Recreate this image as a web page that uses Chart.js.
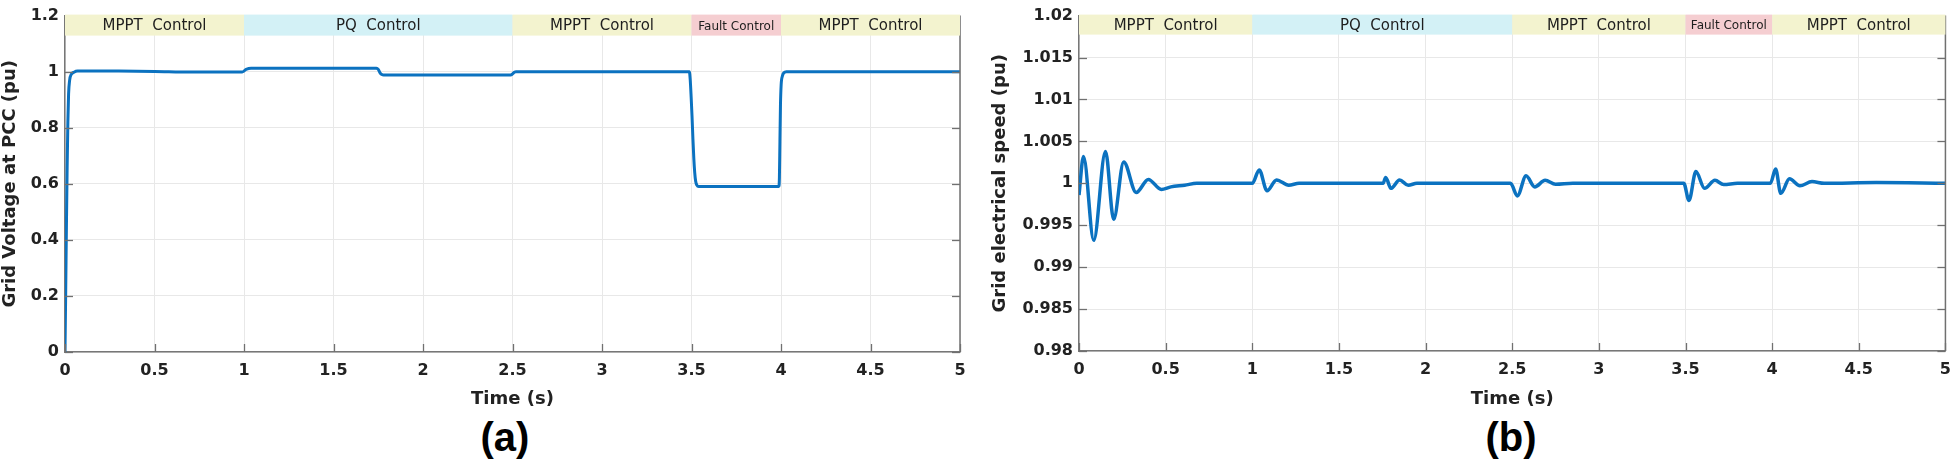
<!DOCTYPE html>
<html><head><meta charset="utf-8">
<script src="https://cdn.jsdelivr.net/npm/chart.js@4.4.1/dist/chart.umd.min.js"></script>
<style>
html,body{margin:0;padding:0;background:#fff;width:1960px;height:460px;overflow:hidden;}
.box{position:absolute;top:0;}
#wa{left:0;} #wb{left:990px;}
.cap{position:absolute;top:415px;font:bold 40px "Liberation Sans",Arial,sans-serif;color:#000;line-height:44px;width:200px;text-align:center;}
</style></head><body>
<div class="box" id="wa"><canvas id="ca" width="980" height="410"></canvas></div>
<div class="box" id="wb"><canvas id="cb" width="970" height="410"></canvas></div>
<div class="cap" style="left:405px">(a)</div>
<div class="cap" style="left:1411px">(b)</div>
<script>
// ---------- data ----------
const bandStart = [0, 1, 2.5, 3.5, 4];
const bandEnd   = [1, 2.5, 3.5, 4, 5];
const bandLabel = ['MPPT  Control', 'PQ  Control', 'MPPT  Control', 'Fault Control', 'MPPT  Control'];

// (a) Grid voltage at PCC (pu)
const timeA = [0, 0.004, 0.008, 0.012, 0.016, 0.02, 0.026, 0.035, 0.05, 0.07, 0.3, 0.5, 0.7, 0.99,
  1.0, 1.01, 1.025, 1.04, 1.3, 1.74, 1.75, 1.76, 1.77, 1.78, 1.8, 2.2, 2.49, 2.5, 2.51, 2.52, 2.54,
  3.0, 3.488, 3.493, 3.498, 3.503, 3.508, 3.513, 3.518, 3.523, 3.53, 3.54, 3.8, 3.98, 3.988, 3.991,
  3.994, 3.997, 4.001, 4.008, 4.016, 4.03, 4.05, 4.5, 5];
const voltA = [0, 0.22, 0.45, 0.66, 0.82, 0.92, 0.97, 0.99, 0.998, 1.002, 1.002, 1.001, 0.999, 0.999,
  1.002, 1.008, 1.011, 1.012, 1.012, 1.012, 1.008, 0.996, 0.99, 0.988, 0.988, 0.988, 0.988, 0.992, 0.998, 1.0, 1.0,
  1.0, 1.0, 0.97, 0.91, 0.84, 0.76, 0.69, 0.64, 0.61, 0.595, 0.59, 0.59, 0.59, 0.59, 0.62,
  0.75, 0.88, 0.955, 0.985, 0.996, 1.0, 1.0, 1.0, 1.0];

// (b) Grid electrical speed (pu)
const timeB = [0, 0.026, 0.085, 0.153, 0.2, 0.258, 0.33, 0.4, 0.475, 0.53, 0.61, 0.68, 0.8, 0.99,
  1.0, 1.04, 1.085, 1.14, 1.21, 1.27, 1.5, 1.755, 1.77, 1.8, 1.85, 1.9, 1.95, 2.2, 2.49, 2.53, 2.58,
  2.63, 2.69, 2.75, 2.85, 3.2, 3.49, 3.52, 3.56, 3.61, 3.67, 3.72, 3.8, 3.99, 4.02, 4.05, 4.1, 4.16,
  4.23, 4.3, 4.6, 5];
const speedB = [0.9986, 1.0032, 0.9932, 1.0038, 0.9957, 1.00255, 0.9989, 1.00046, 0.99927, 0.99957, 0.99977, 1.0, 1.0, 1.0,
  1.0, 1.0016, 0.9991, 1.0004, 0.99977, 1.0, 1.0, 1.0, 1.0007, 0.9994, 1.0004, 0.99977, 1.0, 1.0, 1.0, 0.9985, 1.0009,
  0.99957, 1.00035, 0.99988, 1.0, 1.0, 1.0, 0.99795, 1.0014, 0.9994, 1.00035, 0.99985, 1.0, 1.0, 1.0017, 0.9988, 1.00054, 0.9997,
  1.0002, 1.0, 1.0001, 1.0];

const xTitle = 'Time (s)';
const yTitleA = 'Grid Voltage at PCC (pu)';
const yTitleB = 'Grid electrical speed (pu)';

// ---------- styles ----------
const BAND_COLORS = {'MPPT  Control': '#f3f3cf', 'PQ  Control': '#d3f1f6', 'Fault Control': '#f5ced1'};
const LINE_COLOR = '#0b72c0';
Chart.defaults.font.family = '"DejaVu Sans", Verdana, sans-serif';
Chart.defaults.color = '#222';

const decor = {
  id: 'decor',
  afterDraw(chart, args, o) {
    const {ctx, chartArea: a, scales: {x, y}} = chart;
    const line = (x0, y0, x1, y1) => { ctx.beginPath(); ctx.moveTo(x0, y0); ctx.lineTo(x1, y1); ctx.stroke(); };
    ctx.save();
    ctx.strokeStyle = '#707070'; ctx.lineWidth = 1.3;
    x.ticks.forEach(t => { const px = Math.round(x.getPixelForValue(t.value)) + 0.5; line(px, a.bottom, px, a.bottom - 8); });
    y.ticks.forEach(t => { const py = Math.round(y.getPixelForValue(t.value)) + 0.5; line(a.left, py, a.left + 8, py); line(a.right, py, a.right - 8, py); });
    ctx.lineWidth = 1.5;
    line(a.right, a.top, a.right, a.bottom);
    const bh = o.bandHeight;
    bandStart.forEach((s, i) => {
      const x0 = x.getPixelForValue(s), x1 = x.getPixelForValue(bandEnd[i]);
      const lab = bandLabel[i];
      ctx.fillStyle = BAND_COLORS[lab];
      ctx.fillRect(x0, a.top - 1, x1 - x0, bh + 1);
      ctx.fillStyle = '#1e1e1e';
      ctx.font = (lab.startsWith('Fault') ? '12px' : '15px') + ' "DejaVu Sans", sans-serif';
      ctx.textAlign = 'center'; ctx.textBaseline = 'middle';
      ctx.fillText(lab, (x0 + x1) / 2, a.top + bh / 2 + 1);
    });
    ctx.restore();
  }
};

function makeChart(id, xs, ys, opt) {
  const pts = xs.map((t, i) => ({x: t, y: ys[i]}));
  return new Chart(document.getElementById(id), {
    type: 'line',
    data: {datasets: [{data: pts, borderColor: LINE_COLOR, borderWidth: opt.lw, pointRadius: 0,
      cubicInterpolationMode: 'monotone', fill: false}]},
    options: {
      responsive: false, animation: false, devicePixelRatio: 1,
      layout: {padding: {left: opt.padL, right: opt.padR, top: 0, bottom: 0}},
      plugins: {legend: {display: false}, tooltip: {enabled: false}, decor: {bandHeight: opt.bh}},
      scales: {
        x: {type: 'linear', min: 0, max: 5,
          ticks: {stepSize: 0.5, padding: 9, font: {size: 16, weight: 'bold'}, color: '#222',
            callback: v => String(+v.toFixed(1))},
          grid: {color: '#e8e8e8', drawTicks: false},
          border: {display: true, color: '#777', width: 1.5},
          title: {display: true, text: xTitle, font: {size: 18, weight: 'bold'}, color: '#222', padding: 0},
          afterFit: s => { s.height = opt.xh; }
        },
        y: {type: 'linear', min: opt.ymin, max: opt.ymax,
          ticks: {stepSize: opt.ystep, padding: 6, font: {size: 16, weight: 'bold'}, color: '#222',
            callback: v => String(+v.toFixed(3))},
          grid: {color: '#e8e8e8', drawTicks: false},
          border: {display: true, color: '#777', width: 1.5},
          title: {display: true, text: opt.ytitle, font: {size: 18, weight: 'bold'}, color: '#222', padding: 0},
          afterFit: s => { s.width = opt.yw; }
        }
      }
    },
    plugins: [decor]
  });
}

makeChart('ca', timeA, voltA, {lw: 3, padL: 0, padR: 20, yw: 65, xh: 58, ymin: 0, ymax: 1.2, ystep: 0.2, ytitle: yTitleA, bh: 20});
makeChart('cb', timeB, speedB, {lw: 3.5, padL: 0, padR: 7, yw: 89, xh: 59, ymin: 0.98, ymax: 1.02, ystep: 0.005, ytitle: yTitleB, bh: 19});
</script>
</body></html>
